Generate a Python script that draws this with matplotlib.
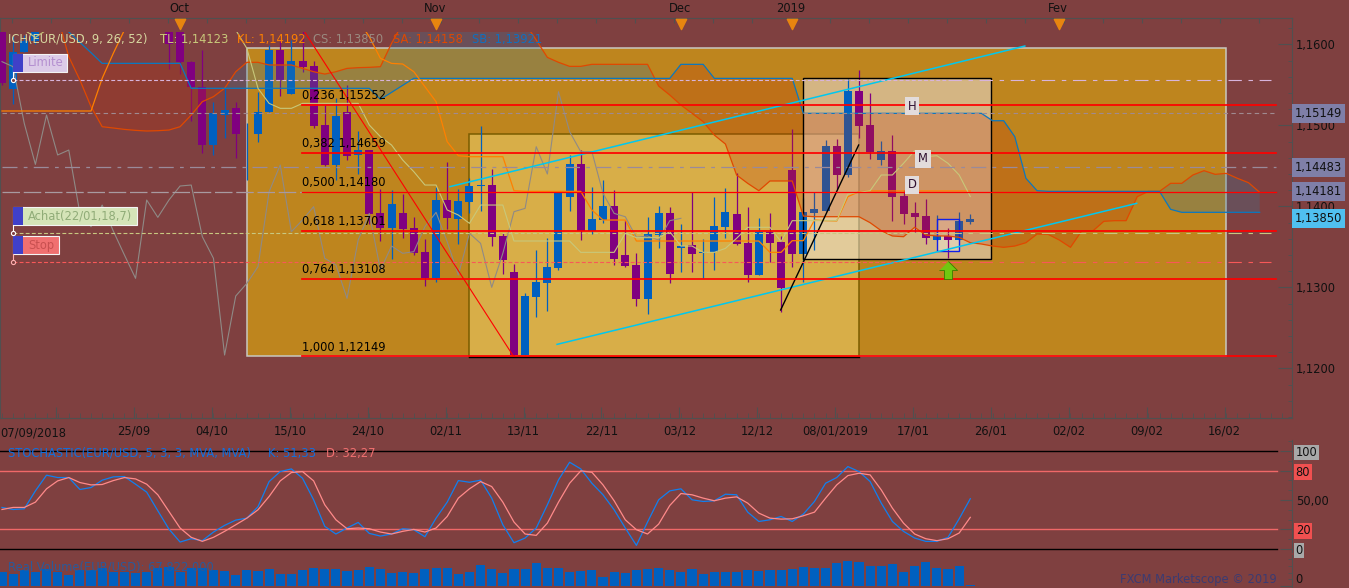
import numpy as np
import matplotlib
matplotlib.use("Agg")
import matplotlib.pyplot as plt
from matplotlib.patches import Rectangle

nan = np.nan

# daily candles, index 4-14 are above the visible range in the screenshot
opens = [1.1634, 1.1545, 1.1591, 1.1604] + [nan] * 11 + [
    1.1630, 1.1625, 1.1578, 1.1547, 1.1476, 1.1513, 1.1522, 1.1490, 1.1490, 1.1517,
    1.1593, 1.1539, 1.1580, 1.1573, 1.1500, 1.1451, 1.1517, 1.1463, 1.1470, 1.1392,
    1.1373, 1.1392, 1.1373, 1.1344, 1.1312, 1.1408, 1.1385, 1.1406, 1.1425, 1.1427,
    1.1363, 1.1319, 1.1217, 1.1288, 1.1306, 1.1324, 1.1412, 1.1452, 1.1370, 1.1383,
    1.1401, 1.1340, 1.1328, 1.1286, 1.1365, 1.1392, 1.1349, 1.1352, 1.1342, 1.1344,
    1.1375, 1.1391, 1.1355, 1.1315, 1.1369, 1.1356, 1.1445, 1.1341, 1.1392, 1.1394,
    1.1475, 1.1439, 1.1543, 1.1501, 1.1457, 1.1468, 1.1413, 1.1392, 1.1388, 1.1359,
    1.1364, 1.1359, 1.1381]
highs = [1.1640, 1.1610, 1.1612, 1.1625] + [nan] * 11 + [
    1.1635, 1.1630, 1.1580, 1.1593, 1.1529, 1.1548, 1.1529, 1.1503, 1.1541, 1.1599,
    1.1604, 1.1606, 1.1620, 1.1580, 1.1525, 1.1534, 1.1550, 1.1493, 1.1470, 1.1422,
    1.1420, 1.1415, 1.1387, 1.1360, 1.1424, 1.1455, 1.1422, 1.1435, 1.1499, 1.1446,
    1.1367, 1.1329, 1.1293, 1.1346, 1.1361, 1.1418, 1.1464, 1.1470, 1.1424, 1.1433,
    1.1420, 1.1383, 1.1343, 1.1387, 1.1401, 1.1399, 1.1378, 1.1418, 1.1360, 1.1412,
    1.1423, 1.1441, 1.1399, 1.1386, 1.1392, 1.1364, 1.1496, 1.1410, 1.1418, 1.1482,
    1.1483, 1.1557, 1.1568, 1.1540, 1.1481, 1.1488, 1.1420, 1.1406, 1.1409, 1.1390,
    1.1373, 1.1393, 1.1391]
lows = [1.1550, 1.1527, 1.1591, 1.1600] + [nan] * 11 + [
    1.1570, 1.1564, 1.1506, 1.1466, 1.1464, 1.1485, 1.1460, 1.1433, 1.1480, 1.1517,
    1.1536, 1.1539, 1.1566, 1.1497, 1.1450, 1.1433, 1.1457, 1.1440, 1.1379, 1.1357,
    1.1335, 1.1361, 1.1340, 1.1302, 1.1307, 1.1372, 1.1354, 1.1392, 1.1394, 1.1351,
    1.1317, 1.1215, 1.1217, 1.1264, 1.1271, 1.1322, 1.1394, 1.1359, 1.1366, 1.1380,
    1.1328, 1.1325, 1.1277, 1.1267, 1.1349, 1.1306, 1.1319, 1.1319, 1.1312, 1.1322,
    1.1361, 1.1352, 1.1307, 1.1315, 1.1331, 1.1270, 1.1325, 1.1307, 1.1346, 1.1394,
    1.1422, 1.1437, 1.1485, 1.1459, 1.1451, 1.1382, 1.1378, 1.1369, 1.1354, 1.1359,
    1.1336, 1.1359, 1.1378]
closes = [1.1552, 1.1591, 1.1604, 1.1620] + [nan] * 11 + [
    1.1601, 1.1578, 1.1547, 1.1476, 1.1515, 1.1519, 1.1490, 1.1490, 1.1517, 1.1593,
    1.1556, 1.1580, 1.1572, 1.1499, 1.1451, 1.1512, 1.1462, 1.1470, 1.1391, 1.1373,
    1.1403, 1.1372, 1.1342, 1.1312, 1.1408, 1.1386, 1.1407, 1.1425, 1.1427, 1.1362,
    1.1334, 1.1217, 1.1290, 1.1307, 1.1325, 1.1417, 1.1452, 1.1370, 1.1385, 1.1401,
    1.1335, 1.1327, 1.1286, 1.1366, 1.1392, 1.1317, 1.1351, 1.1341, 1.1344, 1.1376,
    1.1393, 1.1354, 1.1315, 1.1369, 1.1355, 1.1299, 1.1341, 1.1393, 1.1397, 1.1475,
    1.1439, 1.1543, 1.1499, 1.1467, 1.1468, 1.1412, 1.1391, 1.1387, 1.1361, 1.1364,
    1.1359, 1.1382, 1.1385]

# ichimoku
cloud_idx = list(range(5, 114))
senkou_a = [1.16343, 1.15849, 1.15561, 1.15232, 1.14985, 1.14969, 1.14952, 1.14940, 1.14932, 1.14936,
            1.14944, 1.14985, 1.15129, 1.15294, 1.15356, 1.15459, 1.15664, 1.15780, 1.15780, 1.15747,
            1.15747, 1.15747, 1.15705, 1.15664, 1.15635, 1.15664, 1.15705, 1.15714, 1.15718, 1.15726,
            1.16014] + [1.16261] * 12 + [
            1.16055, 1.15841, 1.15780, 1.15730, 1.15730] + [1.15755] * 6 + [
            1.15487, 1.15376, 1.15253, 1.15150, 1.15047, 1.14882, 1.14771, 1.14389, 1.14286, 1.14195,
            1.14315, 1.14315, 1.14315, 1.13882] + [1.13874] * 5 + [
            1.13800, 1.13701, 1.13636, 1.13627, 1.13743, 1.13648, 1.13636, 1.13636, 1.13619, 1.13553,
            1.13537, 1.13512, 1.13496, 1.13512, 1.13553, 1.13660, 1.13656, 1.13586, 1.13496, 1.13697,
            1.13697, 1.13817, 1.13825, 1.13825, 1.14121, 1.14187, 1.14187, 1.14286, 1.14286, 1.14389,
            1.14442, 1.14397, 1.14409, 1.14348, 1.14294, 1.14175]
senkou_b = [nan, 1.16154, 1.16026, 1.15899] + [1.15767] * 8 + [1.15459] * 17 + [
            1.15323, 1.15409, 1.15496] + [1.15582] * 24 + [1.15755] * 3 + [1.15582] * 8 + [
            1.15150] * 17 + [1.15059, 1.15059, 1.14862, 1.14348, 1.14195] + [1.14187] * 11 + [
            1.13965] + [1.13928] * 8
kijun = [1.15179] * 9 + [1.15582, 1.15891, 1.16179, 1.16384] + [nan] * 19 + [
         1.16302, 1.16096, 1.15829, 1.15767, 1.15759, 1.15664, 1.15479, 1.15294, 1.14800, 1.14627,
         1.14615, 1.14615, 1.14615, 1.14615, 1.14195] + [1.14187] * 6 + [
         1.13957, 1.13833, 1.13833, 1.13833] + [1.13574] * 12 + [
         1.13434, 1.13434, 1.13578, 1.13578, 1.13833, 1.13825, 1.13821, 1.14121, 1.14183] + [1.14192] * 10
tenkan = [nan, nan, 1.16179, 1.16088, 1.16179] + [nan] * 16 + [
          1.16179, 1.15952, 1.15459, 1.15273, 1.15212, 1.15212] + [1.15273] * 6 + [
          1.15006, 1.14862, 1.14759, 1.14574, 1.14430, 1.14265, 1.14265, 1.13957, 1.13895, 1.13792,
          1.14018, 1.14018, 1.14018] + [1.13574] * 6 + [1.13434] * 4 + [
          1.13669, 1.13615, 1.13615, 1.13615, 1.13689, 1.13512, 1.13512, 1.13434, 1.13434, 1.13483,
          1.13607, 1.13743, 1.13743, 1.13743, 1.13566] + [1.13825] * 5 + [
          1.14154, 1.14175, 1.14195, 1.14389, 1.14389, 1.14533, 1.14689, 1.14615, 1.14627, 1.14533,
          1.14389, 1.14123]
chikou = [1.15788, 1.15726, 1.15026, 1.14520, 1.15129, 1.14636, 1.14697, 1.13915, 1.13751, 1.14018,
          1.13697, 1.13401, 1.13113, 1.14080, 1.13866, 1.14080, 1.14253, 1.14265, 1.13627, 1.13360,
          1.12166, 1.12895, 1.13051, 1.13257, 1.14183, 1.14512, 1.13689, 1.13833, 1.13998, 1.13360,
          1.13278, 1.12866, 1.13586, 1.13915, 1.13216, 1.13512, 1.13422, 1.13442, 1.13751, 1.13928,
          1.13566, 1.13154, 1.13669, 1.13545, 1.13002, 1.13422, 1.13936, 1.13977, 1.14738, 1.14401,
          1.15417, 1.14924, 1.14677, 1.14677, 1.14162, 1.13915, 1.13874, 1.13619, 1.13636, 1.13586,
          1.13825, 1.13854]

# retracement levels and order lines
fib_ratio = ["0,236", "0,382", "0,500", "0,618", "0,764", "1,000"]
fib_price = [1.15252, 1.14659, 1.14180, 1.13701, 1.13108, 1.12149]
limite_price = 1.15558
achat_price = 1.13669
stop_price = 1.13311
tag_prices = [1.15149, 1.14483, 1.14181, 1.13850]

# stochastic
stoch_k = [42.4, 40.3, 41.0, 59.3, 75.3, 72.9, 72.9, 60.7, 62.7, 70.2, 73.6, 73.9, 66.1, 58.0, 39.0,
           20.3, 7.1, 10.5, 8.5, 17.3, 24.1, 29.5, 31.5, 43.1, 68.8, 79.0, 81.7, 72.2, 50.2, 23.1,
           15.3, 21.4, 27.1, 15.9, 13.2, 15.3, 20.7, 19.7, 12.5, 31.5, 47.8, 69.8, 68.1, 70.2, 51.9,
           24.7, 6.4, 11.2, 21.4, 45.1, 70.5, 88.5, 81.7, 67.1, 55.3, 40.0, 21.4, 3.7, 27.5, 50.2,
           59.3, 61.4, 50.2, 48.5, 49.2, 55.9, 55.3, 37.6, 28.1, 29.8, 33.2, 28.1, 35.6, 48.5, 67.1,
           72.9, 84.1, 79.0, 68.8, 46.8, 28.1, 18.0, 11.2, 7.8, 7.8, 11.9, 30.8, 51.3]
stoch_d = [40.3, 42.4, 42.4, 47.8, 61.4, 69.5, 72.9, 67.8, 65.4, 65.8, 69.8, 72.9, 71.5, 66.1, 55.3,
           38.3, 21.4, 11.9, 7.8, 11.9, 18.0, 24.7, 31.5, 40.0, 53.6, 69.5, 78.0, 79.0, 69.5, 45.1,
           29.8, 20.7, 21.4, 20.7, 17.3, 15.3, 18.0, 20.0, 17.3, 21.4, 33.2, 51.9, 61.4, 68.8, 63.7,
           47.8, 27.5, 15.3, 13.9, 26.4, 47.8, 67.1, 79.7, 78.3, 65.4, 49.2, 29.8, 19.7, 15.3, 25.4,
           44.4, 56.6, 55.3, 51.9, 49.2, 51.9, 53.2, 46.8, 36.6, 31.5, 30.5, 30.8, 33.9, 37.6, 51.9,
           65.4, 74.9, 77.3, 75.6, 60.3, 41.7, 26.4, 15.3, 10.5, 8.5, 10.5, 16.3, 32.3]

# real volume, millions (scale guessed from the last value shown)
volume = [820, 720, 940, 860, 1020, 820, 660, 980, 940, 1060, 820, 860, 800, 820, 1100, 1140, 860, 1060,
          1100, 940, 900, 660, 940, 900, 1040, 720, 720, 940, 1060, 1020, 1040, 900, 940, 1140, 1040, 800,
          840, 800, 1040, 1060, 1060, 720, 840, 1260, 1040, 800, 1040, 1040, 1380, 1060, 1060, 840, 900, 940,
          540, 840, 800, 940, 1020, 1060, 940, 840, 1040, 720, 840, 840, 840, 960, 920, 960, 960, 1040,
          1160, 1060, 1060, 1400, 1520, 1440, 1200, 1200, 1320, 840, 1200, 1440, 1060, 1040, 1200, 67.8]

date_idx = [11.86, 18.86, 25.86, 32.86, 39.86, 46.86, 53.86, 60.86, 67.86, 74.86,
            81.86, 88.86, 95.86, 102.86, 109.86]
date_labels = ["25/09", "04/10", "15/10", "24/10", "02/11", "13/11", "22/11", "03/12", "12/12",
               "08/01/2019", "17/01", "26/01", "02/02", "09/02", "16/02"]
month_idx = [16, 39, 61, 71, 95]
month_labels = ["Oct", "Nov", "Dec", "2019", "Fev"]

BG = "#7f4040"
BLUE = "#0060c0"
PURPLE = "#800080"
FRAME = "#505050"
W, H = 1349, 588

plt.rcParams["font.family"] = "DejaVu Sans"
plt.rcParams["font.size"] = 8.3


def add_ax(top, bottom, left=0, right=1291.5):
    return fig.add_axes([left / W, 1 - bottom / H, (right - left) / W, (bottom - top) / H])


def price_at(y):
    return 1.16 - (y - 44.5) / 8100


fig = plt.figure(figsize=(W / 100, H / 100), dpi=100, facecolor=BG)

# frame with price and date axis
frame = add_ax(18, 418)
frame.set_facecolor(BG)
xlim = (-0.18, 115.86)
frame.set_xlim(xlim)
frame.set_ylim(price_at(418), price_at(18))
for s in frame.spines.values():
    s.set_color(FRAME)
frame.yaxis.tick_right()
frame.set_yticks([1.12, 1.13, 1.14, 1.15, 1.16])
frame.set_yticklabels(["1,1200", "1,1300", "1,1400", "1,1500", "1,1600"])
frame.set_yticks(np.arange(1.114, 1.1635, 0.002), minor=True)
frame.tick_params(axis="y", which="major", direction="in", length=10, color=FRAME, pad=3, labelcolor="#111111")
frame.tick_params(axis="y", which="minor", direction="in", length=3, color=FRAME)
frame.set_xticks([4.86] + date_idx)
frame.set_xticklabels([""] + date_labels)
frame.set_xticks(np.arange(0, 116, 1), minor=True)
frame.tick_params(axis="x", which="major", direction="in", length=8, color=FRAME, pad=5, labelcolor="#111111")
frame.tick_params(axis="x", which="minor", direction="in", length=3.5, color=FRAME)
frame.text(0.0, -0.0225, "07/09/2018", transform=frame.transAxes, va="top", ha="left", color="#111111")
sec = frame.secondary_xaxis("top")
sec.set_xticks(np.arange(0.9, 116, 3.5))
sec.set_xticklabels([])
sec.tick_params(direction="in", length=3.5, color=FRAME)
sec.spines["top"].set_visible(False)

trans = frame.get_xaxis_transform()
frame.scatter(month_idx, [0.985] * len(month_idx), marker="v", s=55, color="#e8850f", transform=trans, zorder=4)
for i, lab in zip(month_idx, month_labels):
    frame.text(i - 0.1, 1.025, lab, transform=trans, ha="center", va="center", color="#111111", clip_on=False)

tag_colors = ["#7f7fa8", "#7f7fa8", "#7f7fa8", "#50c0f0"]
ytrans = frame.get_yaxis_transform()
for p, c in zip(tag_prices, tag_colors):
    frame.text(1.0025, p, ("%.5f" % p).replace(".", ","), transform=ytrans, va="center", ha="left",
               color="#111111", zorder=10, clip_on=False,
               bbox=dict(boxstyle="square,pad=0.26", fc=c, ec="none"))

# price chart, clipped below the header strip like the screenshot
ax = add_ax(32, 418)
ax.patch.set_alpha(0)
ax.set_xlim(xlim)
ax.set_ylim(price_at(418), price_at(32))
ax.axis("off")

ax.add_patch(Rectangle((22, fib_price[-1]), 88, 1.15953 - fib_price[-1], fc="#be851e", ec="#c8c8c0", lw=1.1, zorder=1))
ax.add_patch(Rectangle((42, 1.1214), 35, 1.14899 - 1.1214, fc="#d8ae48", ec="#7a5c00", lw=1.1, zorder=1.1))
ax.plot([42, 77], [1.1214, 1.1214], color="black", lw=1.0, zorder=1.2)

# light box sits under the candles, the cloud on top of them
ax.add_patch(Rectangle((72, 1.13348), 16.9, 1.15590 - 1.13348, fc="#f0f0ff", alpha=0.45, ec="none", zorder=2.5))
ax.add_patch(Rectangle((84, 1.13455), 2, 1.13845 - 1.13455, fc="#ffffff", alpha=0.35, ec="none", zorder=2.6))

# candles
for i in range(len(opens)):
    if np.isnan(opens[i]):
        continue
    col = BLUE if closes[i] >= opens[i] else PURPLE
    ax.vlines(i, lows[i], highs[i], color=col, lw=0.9, zorder=3)
    ax.bar(i, abs(closes[i] - opens[i]), bottom=min(opens[i], closes[i]), width=0.72, color=col, lw=0, zorder=3)

ci = np.array(cloud_idx)
sa = np.array(senkou_a)
sb = np.array(senkou_b)
ax.fill_between(ci, sa, sb, where=sb > sa, interpolate=True, color="#c0340a", alpha=0.25, lw=0, zorder=3.4)
ax.fill_between(ci, sa, sb, where=sa >= sb, interpolate=True, color="#32789f", alpha=0.27, lw=0, zorder=3.4)

ax.add_patch(Rectangle((72, 1.13348), 16.9, 1.15590 - 1.13348, fc="none", ec="black", lw=1.0, zorder=3.5))
ax.add_patch(Rectangle((84, 1.13455), 2, 1.13845 - 1.13455, fc="none", ec="#1020e8", lw=1.0, zorder=3.5))

# ichimoku lines
ax.plot(range(len(chikou)), chikou, color="#8f8a86", lw=0.8, zorder=4)
ax.plot(cloud_idx, senkou_a, color="#e04800", lw=0.9, zorder=4)
ax.plot(cloud_idx, senkou_b, color="#0a78c0", lw=0.9, zorder=4)
ax.plot(range(len(kijun)), kijun, color="#ff8000", lw=0.9, zorder=4)
ax.plot(range(len(tenkan)), tenkan, color="#c8c87a", lw=0.8, zorder=4)

# hand drawn trend lines
ax.plot([40.25, 91.9], [1.14245, 1.15981], color="#00c8f0", lw=1.1, zorder=5)
ax.plot([49.87, 101.95], [1.12298, 1.14039], color="#00c8f0", lw=1.1, zorder=5)
ax.plot([69.96, 76.97], [1.12722, 1.14759], color="black", lw=1.0, zorder=5)
ax.plot([27.2, 45.94], [1.16154, 1.12154], color="#ff0000", lw=0.8, zorder=5)

# order lines
ax.plot([0, 114.3], [1.15149, 1.15149], color="#a08a90", lw=0.8, dashes=(4, 3), zorder=4.5)
ax.plot([0, 114.5], [1.14483, 1.14483], color="#9a8a9a", lw=0.9, dashes=(12, 5, 3, 5), zorder=4.5)
ax.plot([0, 27], [1.14181, 1.14181], color="#a89aa0", lw=0.9, dashes=(14, 3), zorder=4.5)
order_levels = [limite_price, achat_price, stop_price]
order_colors = ["#d8b4dc", "#c8c880", "#f85858"]
for p, c in zip(order_levels, order_colors):
    ax.plot([1, 85], [p, p], color=c, lw=0.8, dashes=(3.5, 2), zorder=5.5)
    ax.plot([85, 114], [p, p], color=c, lw=0.8, dashes=(12, 6, 4, 6), zorder=5.5)

# fibonacci levels
for r, p in zip(fib_ratio, fib_price):
    ax.plot([26.95, 114.5], [p, p], color="#ff0000", lw=0.9 if r == "0,500" else 1.25, zorder=6)
    ax.annotate(r + " " + ("%.5f" % p).replace(".", ","), (26.95, p), xytext=(0, 2), textcoords="offset points",
                va="bottom", ha="left", color="black", zorder=7)

ax.scatter(85, price_at(270), s=170, color="#70c810", edgecolor="#3a7a00", lw=0.6, zorder=8,
           marker=[(0, 1), (1, 0), (0.45, 0), (0.45, -1), (-0.45, -1), (-0.45, 0), (-1, 0)])

# stochastic panel
st = add_ax(440, 552)
st.set_facecolor(BG)
st.set_xlim(xlim)
st.set_ylim(-3.06, 111.2)
for s in ["top", "left", "bottom"]:
    st.spines[s].set_visible(False)
st.spines["right"].set_color(FRAME)
st.set_xticks([])
st.yaxis.tick_right()
st.set_yticks([0, 20, 50, 80, 100])
st.set_yticklabels(["0", "20", "50,00", "80", "100"])
st.set_yticks(np.arange(0, 111, 10), minor=True)
st.tick_params(axis="y", which="major", direction="in", length=9, color=FRAME, pad=3, labelcolor="#111111")
st.tick_params(axis="y", which="minor", direction="in", length=3, color=FRAME)
label_bg = ["#a8a8a8", "#f05050", None, "#f05050", "#a8a8a8"]
for t, c in zip(st.get_yticklabels(), label_bg):
    if c:
        t.set_bbox(dict(boxstyle="square,pad=0.12", fc=c, ec="none"))
for v in [100, 0]:
    st.plot([-0.18, 114.6], [v, v], color="black", lw=1.0, zorder=1)
for v in [80, 20]:
    st.plot([-0.18, 114.6], [v, v], color="#f06868", lw=1.0, zorder=1)
st.plot(range(len(stoch_k)), stoch_k, color="#1080f0", lw=0.9, zorder=3)
st.plot(range(len(stoch_d)), stoch_d, color="#ff8a8a", lw=0.9, zorder=3)

# volume panel
vo = add_ax(555, 588)
vo.set_facecolor(BG)
vo.set_xlim(xlim)
vo.set_ylim(-120, 1860)
for s in ["top", "left", "bottom"]:
    vo.spines[s].set_visible(False)
vo.spines["right"].set_color(FRAME)
vo.set_xticks([])
vo.yaxis.tick_right()
vo.set_yticks([0])
vo.set_yticklabels(["0"], va="bottom")
vo.set_yticks([400, 800, 1200, 1600], minor=True)
vo.tick_params(axis="y", which="major", direction="in", length=9, color=FRAME, pad=3, labelcolor="#111111")
vo.tick_params(axis="y", which="minor", direction="in", length=3, color=FRAME)
vo.bar(range(len(volume)), volume, width=0.82, color=BLUE, lw=0)

# overlay for labels placed by screen position
top = fig.add_axes([0, 0, 1, 1], zorder=20)
top.patch.set_alpha(0)
top.set_xlim(0, W)
top.set_ylim(H, 0)
top.axis("off")

legend = [(8, "ICH(EUR/USD, 9, 26, 52)", "#d8d8a0"), (160, "TL: 1,14123", "#c8c87a"),
          (237, "KL: 1,14192", "#ff8000"), (313, "CS: 1,13850", "#9a8a80"),
          (393, "SA: 1,14158", "#e04800"), (472, "SB: 1,13921", "#1070c0")]
for x, s, c in legend:
    top.text(x, 39, s, color=c, va="center", ha="left")

flags = [(13, 67, 54, "Limite", "#dccbe8", "#b48fd0", "#ffffff"),
         (13, 137, 207, "Achat(22/01,18,7)", "#d5e4b8", "#90ac78", "#ffffff"),
         (13, 59, 236, "Stop", "#f07070", "#c85050", "#ffb0b0")]
for x0, x1, y0, s, fc, tc, lc in flags:
    top.add_patch(Rectangle((x0, y0), x1 - x0, 18, fc=fc, ec="#f4f4f4", lw=0.8))
    top.add_patch(Rectangle((x0, y0), 10, 18, fc="#4040c8", ec="none"))
    top.text(x0 + 15, y0 + 9, s, color=tc, va="center", ha="left")
    top.plot([x0, x0], [y0 + 18, y0 + 26], color=lc, lw=0.8)
    top.plot(x0, y0 + 26, "o", ms=3, mfc=BG, mec=lc, mew=0.8)

for x, y, s in [(912, 106, "H"), (923, 159, "M"), (912, 185, "D")]:
    top.text(x, y, s, color="#301030", ha="center", va="center",
             bbox=dict(boxstyle="square,pad=0.25", fc="#e2dcdc", ec="none"))

top.text(8, 453, "STOCHASTIC(EUR/USD, 5, 3, 3, MVA, MVA)", color="#1070e0", va="center", ha="left")
top.text(268, 453, "K: 51,33", color="#1070e0", va="center", ha="left")
top.text(326, 453, "D: 32,27", color="#f07070", va="center", ha="left")
top.text(8, 567, "Real Volume(EUR/USD): 67 822 000", color="#2a5a9a", va="center", ha="left")
top.text(1277, 579, "FXCM Marketscope © 2019", color="#3b3b72", va="center", ha="right")

fig.savefig("out.png", dpi=100, facecolor=BG)
